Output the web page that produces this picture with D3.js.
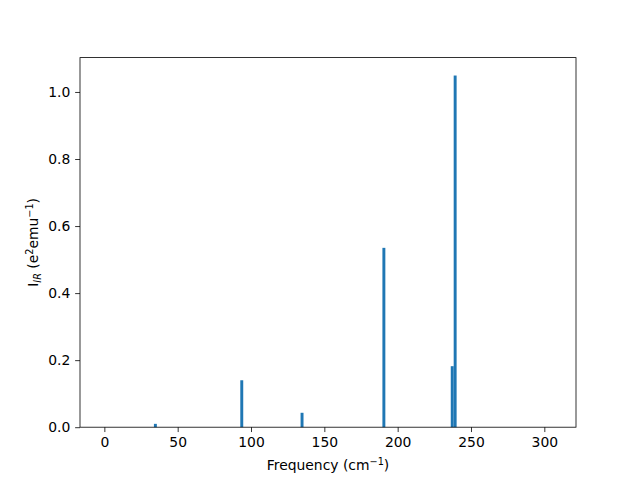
<!DOCTYPE html>
<html><head><meta charset="utf-8">
<script src="https://cdn.jsdelivr.net/npm/d3@7"></script>
<style>body{margin:0;background:#fff}svg{display:block}text{font-family:"DejaVu Sans",sans-serif;fill:#000}</style>
</head><body>
<script>
const frequencies = [0, 34.8, 93.7, 134.8, 190.6, 237.2, 239.2, 305];
const intensities = [0, 0.010, 0.140, 0.043, 0.535, 0.182, 1.049, 0];
const barWidth = 2.0;
const xTicks = [0, 50, 100, 150, 200, 250, 300];
const yTicks = [0.0, 0.2, 0.4, 0.6, 0.8, 1.0];
const xLimits = [-16.6, 321.6];
const yLimits = [0, 1.1025];

const W = 640, H = 480;
const m = {left: 80, right: 576, top: 57.6, bottom: 427.2};
const svg = d3.select("body").append("svg").attr("width", W).attr("height", H);
const x = d3.scaleLinear().domain(xLimits).range([m.left, m.right]);
const y = d3.scaleLinear().domain(yLimits).range([m.bottom, m.top]);

svg.append("g").selectAll("rect").data(frequencies.map((f, i) => ({f, v: intensities[i]})))
  .join("rect")
  .attr("x", d => x(d.f - barWidth / 2))
  .attr("width", d => x(d.f + barWidth / 2) - x(d.f - barWidth / 2))
  .attr("y", d => y(d.v))
  .attr("height", d => y(0) - y(d.v))
  .attr("fill", "#1f77b4");

const fs = 13.9;
const xAxis = svg.append("g").attr("transform", `translate(0,${m.bottom})`)
  .call(d3.axisBottom(x).tickValues(xTicks).tickFormat(d3.format("d")).tickSize(4.86).tickPadding(4.86).tickSizeOuter(0));
const yAxis = svg.append("g").attr("transform", `translate(${m.left},0)`)
  .call(d3.axisLeft(y).tickValues(yTicks).tickFormat(d3.format(".1f")).tickSize(4.86).tickPadding(4.86).tickSizeOuter(0));
[xAxis, yAxis].forEach(g => {
  g.select(".domain").remove();
  g.selectAll("line").attr("stroke", "#000").attr("stroke-width", 0.8);
  g.selectAll("text").attr("font-family", "DejaVu Sans").attr("font-size", fs).attr("fill", "#000");
});

svg.append("rect").attr("x", m.left).attr("y", m.top)
  .attr("width", m.right - m.left).attr("height", m.bottom - m.top)
  .attr("fill", "none").attr("stroke", "#000").attr("stroke-width", 0.8);

const xl = svg.append("text").attr("x", (m.left + m.right) / 2).attr("y", 470)
  .attr("text-anchor", "middle").attr("font-size", fs);
xl.append("tspan").text("Frequency (cm");
xl.append("tspan").attr("dy", -5).attr("font-size", 9.7).text("\u22121");
xl.append("tspan").attr("dy", 5).text(")");

const yl = svg.append("text").attr("transform", `translate(38,${(m.top + m.bottom) / 2}) rotate(-90)`)
  .attr("text-anchor", "middle").attr("font-size", fs);
yl.append("tspan").text("I");
yl.append("tspan").attr("dy", 2.5).attr("font-size", 9.7).attr("font-style", "italic").text("IR");
yl.append("tspan").attr("dy", -2.5).text(" (e");
yl.append("tspan").attr("dy", -5).attr("font-size", 9.7).text("2");
yl.append("tspan").attr("dy", 5).text("emu");
yl.append("tspan").attr("dy", -5).attr("font-size", 9.7).text("\u22121");
yl.append("tspan").attr("dy", 5).text(")");
</script>
</body></html>
